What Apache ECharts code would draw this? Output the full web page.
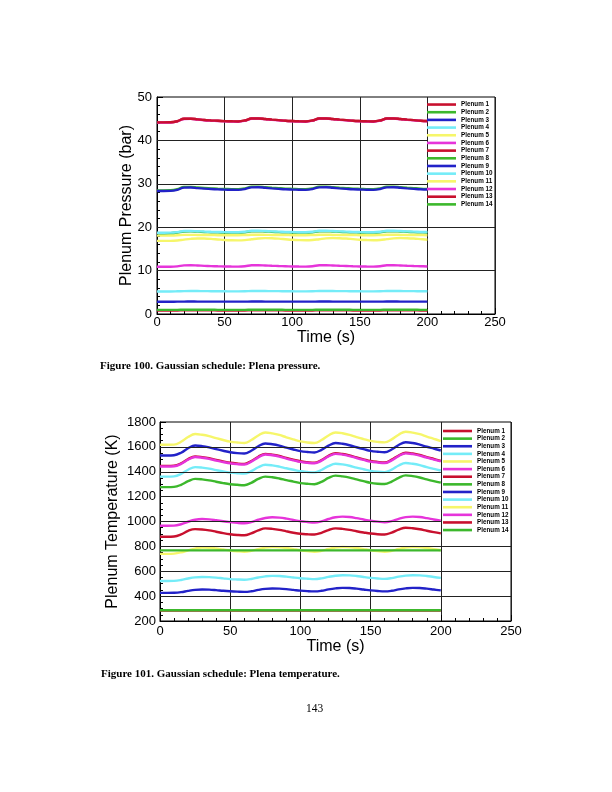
<!DOCTYPE html>
<html>
<head>
<meta charset="utf-8">
<script src="https://cdn.jsdelivr.net/npm/echarts@6/dist/echarts.min.js"></script>
<style>
html,body{margin:0;padding:0;background:#fff;}
#c{width:612px;height:792px;}
</style>
</head>
<body>
<div id="c"></div>
<script>
// ---------------- DATA ----------------
const times = [0,5,10,15,20,25,30,35,40,45,50,55,60,65,70,75,80,85,90,95,100,105,110,115,120,125,130,135,140,145,150,155,160,165,170,175,180,185,190,195,200];
const plenumNames = ['Plenum 1','Plenum 2','Plenum 3','Plenum 4','Plenum 5','Plenum 6','Plenum 7','Plenum 8','Plenum 9','Plenum 10','Plenum 11','Plenum 12','Plenum 13','Plenum 14'];
const xTicks = [0,50,100,150,200,250];
const pressureTicks = [0,10,20,30,40,50];
const temperatureTicks = [200,400,600,800,1000,1200,1400,1600,1800];

// Pressure (bar)
const pressure1 = [44.15,44.15,44.17,44.42,44.98,45.0,44.85,44.7,44.6,44.52,44.45,44.4,44.36, 44.58,45.04,45.06,44.94,44.79,44.66,44.54,44.46,44.4,44.36, 44.58,45.04,45.06,44.94,44.79,44.66,44.54,44.46,44.4,44.36, 44.58,45.04,45.06,44.94,44.79,44.66,44.54,44.46];
const pressure2 = [28.49,28.49,28.51,28.75,29.27,29.3,29.15,29.03,28.95,28.87,28.81,28.77,28.75, 28.93,29.33,29.35,29.23,29.1,28.99,28.89,28.83,28.78,28.75, 28.93,29.33,29.35,29.23,29.1,28.99,28.89,28.83,28.78,28.75, 28.93,29.33,29.35,29.23,29.1,28.99,28.89,28.83];
const pressure3 = [28.34,28.34,28.36,28.6,29.12,29.15,29.0,28.88,28.8,28.72,28.66,28.62,28.6, 28.78,29.18,29.2,29.08,28.95,28.84,28.74,28.68,28.63,28.6, 28.78,29.18,29.2,29.08,28.95,28.84,28.74,28.68,28.63,28.6, 28.78,29.18,29.2,29.08,28.95,28.84,28.74,28.68];
const pressure4 = [18.72,18.72,18.74,18.87,19.12,19.14,19.07,19.0,18.94,18.9,18.87,18.85,18.84, 18.94,19.17,19.18,19.11,19.03,18.97,18.92,18.88,18.85,18.84, 18.94,19.17,19.18,19.11,19.03,18.97,18.92,18.88,18.85,18.84, 18.94,19.17,19.18,19.11,19.03,18.97,18.92,18.88];
const pressure5 = [18.07,18.07,18.08,18.13,18.22,18.24,18.22,18.2,18.18,18.16,18.15,18.15,18.14, 18.18,18.25,18.26,18.24,18.21,18.19,18.17,18.16,18.15,18.14, 18.18,18.25,18.26,18.24,18.21,18.19,18.17,18.16,18.15,18.14, 18.18,18.25,18.26,18.24,18.21,18.19,18.17,18.16];
const pressure6 = [44.1,44.1,44.12,44.37,44.93,44.95,44.8,44.65,44.55,44.47,44.4,44.35,44.31, 44.53,44.99,45.01,44.89,44.74,44.61,44.49,44.41,44.35,44.31, 44.53,44.99,45.01,44.89,44.74,44.61,44.49,44.41,44.35,44.31, 44.53,44.99,45.01,44.89,44.74,44.61,44.49,44.41];
const pressure7 = [44.15,44.15,44.17,44.42,44.98,45.0,44.85,44.7,44.6,44.52,44.45,44.4,44.36, 44.58,45.04,45.06,44.94,44.79,44.66,44.54,44.46,44.4,44.36, 44.58,45.04,45.06,44.94,44.79,44.66,44.54,44.46,44.4,44.36, 44.58,45.04,45.06,44.94,44.79,44.66,44.54,44.46];
const pressure8 = [18.62,18.62,18.64,18.77,19.02,19.04,18.97,18.9,18.84,18.8,18.77,18.75,18.74, 18.84,19.07,19.08,19.01,18.93,18.87,18.82,18.78,18.75,18.74, 18.84,19.07,19.08,19.01,18.93,18.87,18.82,18.78,18.75,18.74, 18.84,19.07,19.08,19.01,18.93,18.87,18.82,18.78];
const pressure9 = [2.83,2.83,2.83,2.84,2.86,2.87,2.86,2.85,2.85,2.84,2.84,2.84,2.84, 2.85,2.87,2.87,2.86,2.85,2.85,2.84,2.84,2.84,2.84, 2.85,2.87,2.87,2.86,2.85,2.85,2.84,2.84,2.84,2.84, 2.85,2.87,2.87,2.86,2.85,2.85,2.84,2.84];
const pressure10 = [5.2,5.2,5.2,5.23,5.28,5.3,5.29,5.27,5.25,5.24,5.23,5.22,5.22, 5.24,5.29,5.31,5.29,5.27,5.26,5.24,5.23,5.22,5.22, 5.24,5.29,5.31,5.29,5.27,5.26,5.24,5.23,5.22,5.22, 5.24,5.29,5.31,5.29,5.27,5.26,5.24,5.23];
const pressure11 = [16.85,16.85,16.86,16.95,17.15,17.32,17.4,17.38,17.3,17.18,17.06,16.99,16.96, 17.03,17.22,17.4,17.48,17.45,17.36,17.23,17.1,17.02,16.98, 17.04,17.23,17.42,17.5,17.47,17.38,17.25,17.12,17.04,17.0, 17.05,17.24,17.43,17.5,17.47,17.38,17.25,17.12];
const pressure12 = [10.87,10.87,10.88,10.98,11.2,11.24,11.18,11.1,11.04,10.99,10.96,10.93,10.92, 11.0,11.22,11.25,11.19,11.11,11.05,11.0,10.96,10.93,10.92, 11.0,11.22,11.25,11.19,11.11,11.05,11.0,10.96,10.93,10.92, 11.0,11.22,11.25,11.19,11.11,11.05,11.0,10.96];
const pressure13 = [0.82,0.82,0.82,0.82,0.83,0.83,0.83,0.83,0.83,0.82,0.82,0.82,0.82, 0.82,0.83,0.83,0.83,0.83,0.83,0.82,0.82,0.82,0.82, 0.82,0.83,0.83,0.83,0.83,0.83,0.82,0.82,0.82,0.82, 0.82,0.83,0.83,0.83,0.83,0.83,0.82,0.82];
const pressure14 = [0.96,0.96,0.96,0.96,0.97,0.97,0.97,0.97,0.97,0.96,0.96,0.96,0.96, 0.96,0.97,0.97,0.97,0.97,0.97,0.96,0.96,0.96,0.96, 0.96,0.97,0.97,0.97,0.97,0.97,0.96,0.96,0.96,0.96, 0.96,0.97,0.97,0.97,0.97,0.97,0.96,0.96];

// Temperature (K)
const temperature1 = [1447,1447,1449,1468,1502,1523,1518,1509,1495,1483,1472,1466,1463,1486,1521,1544,1538,1527,1511,1497,1484,1477,1473,1494,1528,1549,1543,1531,1515,1500,1486,1479,1475,1497,1531,1553,1547,1535,1518,1503,1488];
const temperature2 = [1276,1276,1278,1295,1324,1343,1339,1331,1320,1309,1300,1295,1292,1311,1342,1361,1356,1346,1333,1321,1309,1303,1300,1319,1350,1369,1363,1353,1338,1324,1311,1304,1301,1321,1351,1371,1365,1354,1339,1325,1312];
const temperature3 = [1531,1531,1533,1553,1589,1611,1606,1596,1582,1569,1557,1550,1547,1569,1605,1627,1621,1610,1594,1579,1566,1559,1555,1576,1610,1631,1625,1613,1597,1582,1568,1561,1557,1579,1615,1637,1631,1618,1601,1586,1571];
const temperature4 = [1361,1361,1363,1382,1416,1437,1433,1425,1413,1403,1393,1388,1385,1405,1436,1456,1451,1441,1428,1416,1404,1398,1395,1414,1445,1464,1459,1448,1433,1420,1407,1400,1397,1417,1450,1470,1464,1453,1437,1423,1410];
const temperature5 = [1617,1617,1618,1641,1679,1703,1697,1686,1670,1655,1642,1635,1631,1655,1692,1716,1709,1696,1677,1660,1644,1635,1631,1655,1692,1716,1710,1697,1679,1663,1648,1640,1636,1660,1698,1722,1715,1702,1683,1665,1647];
const temperature6 = [1442,1442,1444,1463,1497,1518,1513,1504,1490,1478,1467,1461,1458,1481,1516,1539,1533,1522,1506,1492,1479,1472,1468,1489,1523,1544,1538,1526,1510,1495,1481,1474,1470,1492,1526,1548,1542,1530,1513,1498,1483];
const temperature7 = [877,877,879,896,925,939,936,929,918,907,898,892,889,905,929,945,941,933,921,910,901,897,895,909,931,945,941,933,922,912,903,898,896,911,935,950,946,938,926,915,905];
const temperature8 = [768,768,768,768,768,768,768,768,768,768,768,768,768,768,768,768,768,768,768,768,768,768,768,768,768,768,768,768,768,768,768,768,768,768,768,768,768,768,768,768,768];
const temperature9 = [426,426,427,432,442,450,453,452,448,443,439,436,434,439,450,458,461,460,456,450,444,440,438,443,454,462,466,465,460,453,446,441,438,443,454,462,466,465,460,453,446];
const temperature10 = [522,522,523,530,542,551,554,553,549,543,537,534,532,538,550,559,563,562,557,550,544,540,537,543,555,564,568,567,562,554,547,542,539,545,557,565,568,567,562,554,547];
const temperature11 = [740,740,742,752,768,782,790,789,783,775,767,761,757,764,778,790,795,793,787,778,769,762,757,764,779,791,795,793,787,778,769,762,757,764,779,791,795,793,787,778,769];
const temperature12 = [966,966,967,978,998,1014,1020,1017,1010,1002,995,989,986,995,1014,1028,1034,1031,1023,1012,1002,996,992,1001,1020,1034,1039,1036,1027,1016,1006,999,994,1003,1021,1035,1039,1036,1027,1016,1006];
const temperature13 = [285,285,285,285,285,285,285,285,285,285,285,285,285,285,285,285,285,285,285,285,285,285,285,285,285,285,285,285,285,285,285,285,285,285,285,285,285,285,285,285,285];
const temperature14 = [287,287,287,287,287,287,287,287,287,287,287,287,287,287,287,287,287,287,287,287,287,287,287,287,287,287,287,287,287,287,287,287,287,287,287,287,287,287,287,287,287];

const pressureGridLines = [10,20,30,40];
const temperatureGridLines = [400,600,800,1000,1200,1400,1600];

// ---------------- STYLE ----------------
const RED='#c8102e', GREEN='#3cb82c', BLUE='#2222c8', CYAN='#74ecf8', YELLOW='#f6f66a', MAGENTA='#e634da';
const plenumColors = [RED,GREEN,BLUE,CYAN,YELLOW,MAGENTA,RED,GREEN,BLUE,CYAN,YELLOW,MAGENTA,RED,GREEN];
const pressureSeries = [pressure1,pressure2,pressure3,pressure4,pressure5,pressure6,pressure7,pressure8,pressure9,pressure10,pressure11,pressure12,pressure13,pressure14];
const temperatureSeries = [temperature1,temperature2,temperature3,temperature4,temperature5,temperature6,temperature7,temperature8,temperature9,temperature10,temperature11,temperature12,temperature13,temperature14];
const pressureZ = [2,2,2,4,2,2,2,3,2,2,2,2,2,2];
const temperatureZ = [2,2,2,2,2,2,2,3,2,2,2,2,2,2];
const SANS = 'Liberation Sans, Arial, sans-serif';
const SERIF = 'Liberation Serif, Times New Roman, serif';

function pairs(vals){ return times.map((t,i)=>[t, vals[i]]); }

function gridLineData(vals, legendFrom, xFull, xLegend){
  return vals.map(v => [{coord:[0,v]},{coord:[v>=legendFrom ? xLegend : xFull, v]}]);
}

function xAxisCfg(gridIndex, nameGap, labelMargin){
  return {
    type:'value', gridIndex, min:0, max:250, interval:50,
    name:'Time (s)', nameLocation:'middle', nameGap,
    nameTextStyle:{fontFamily:SANS, fontSize:16, color:'#000'},
    axisLine:{show:true, lineStyle:{color:'#000', width:1}},
    axisTick:{show:true, inside:true, length:6, lineStyle:{color:'#000'}},
    minorTick:{show:true, splitNumber:5, length:3, lineStyle:{color:'#000'}},
    axisLabel:{fontFamily:SANS, fontSize:13, color:'#000', margin:labelMargin,
      formatter: v => xTicks.includes(v) ? String(v) : ''},
    splitLine:{show:true, lineStyle:{color:'#222', width:1}}
  };
}
function yAxisCfg(gridIndex, min, max, interval, minorSplit, name, nameGap, labelMargin, ticks){
  return {
    type:'value', gridIndex, min, max, interval,
    name, nameLocation:'middle', nameGap, nameMoveOverlap:false,
    nameTextStyle:{fontFamily:SANS, fontSize:16, color:'#000'},
    axisLine:{show:true, lineStyle:{color:'#000', width:1}},
    axisTick:{show:true, inside:true, length:6, lineStyle:{color:'#000'}},
    minorTick:{show:true, splitNumber:minorSplit, length:3, lineStyle:{color:'#000'}},
    axisLabel:{fontFamily:SANS, fontSize:13, color:'#000', margin:labelMargin,
      formatter: v => ticks.includes(v) ? String(v) : ''},
    splitLine:{show:false}
  };
}

const series = [];
pressureSeries.forEach((vals,i)=>{
  series.push({
    type:'line', name:plenumNames[i], xAxisIndex:0, yAxisIndex:0,
    data:pairs(vals), showSymbol:false, smooth:0.4,
    lineStyle:{color:plenumColors[i], width:2.4}, itemStyle:{color:plenumColors[i]},
    silent:true, z: pressureZ[i]
  });
});
temperatureSeries.forEach((vals,i)=>{
  series.push({
    type:'line', name:plenumNames[i], xAxisIndex:1, yAxisIndex:1,
    data:pairs(vals), showSymbol:false, smooth:0.4,
    lineStyle:{color:plenumColors[i], width:2.4}, itemStyle:{color:plenumColors[i]},
    silent:true, z: temperatureZ[i]
  });
});
// horizontal grid lines (stop at the legend block)
series.push({
  type:'line', xAxisIndex:0, yAxisIndex:0, data:[], silent:true, z:1,
  markLine:{silent:true, symbol:['none','none'], label:{show:false}, animation:false,
    lineStyle:{color:'#222', width:1, type:'solid'},
    data:gridLineData(pressureGridLines, 30, 250, 200)}
});
series.push({
  type:'line', xAxisIndex:1, yAxisIndex:1, data:[], silent:true, z:1,
  markLine:{silent:true, symbol:['none','none'], label:{show:false}, animation:false,
    lineStyle:{color:'#222', width:1, type:'solid'},
    data:gridLineData(temperatureGridLines, 1000, 250, 200)}
});

function legendCfg(left, top, lineH){
  return {
    orient:'vertical', left, top, padding:0, itemGap:0,
    itemWidth:29, itemHeight:2.6, icon:'rect', selectedMode:false,
    textStyle:{fontFamily:SANS, fontSize:6.3, fontWeight:'bold', color:'#000', lineHeight:lineH},
    data:plenumNames
  };
}

const chart = echarts.init(document.getElementById('c'), null, {renderer:'canvas', width:612, height:792});
chart.setOption({
  animation:false,
  backgroundColor:'#fff',
  grid:[
    {left:157, top:97, width:338, height:217, show:true, borderColor:'#000', borderWidth:1, backgroundColor:'transparent'},
    {left:160, top:422, width:351, height:199, show:true, borderColor:'#000', borderWidth:1, backgroundColor:'transparent'}
  ],
  xAxis:[ xAxisCfg(0, 15, 2), xAxisCfg(1, 16, 4) ],
  yAxis:[
    yAxisCfg(0, 0, 50, 10, 5, 'Plenum Pressure (bar)', 22, 5, pressureTicks),
    yAxisCfg(1, 200, 1800, 200, 4, 'Plenum Temperature (K)', 39, 4, temperatureTicks)
  ],
  legend:[ legendCfg(427, 100.7, 7.68), legendCfg(443, 427.2, 7.62) ],
  graphic:[
    {type:'text', left:100, top:361, style:{text:'Figure 100. Gaussian schedule: Plena pressure.', font:'bold 11px '+SERIF, fill:'#000'}},
    {type:'text', left:101, top:669, style:{text:'Figure 101. Gaussian schedule: Plena temperature.', font:'bold 11px '+SERIF, fill:'#000'}},
    {type:'text', left:306, top:703, style:{text:'143', font:'11.5px '+SERIF, fill:'#000'}}
  ],
  series
});
</script>
</body>
</html>
